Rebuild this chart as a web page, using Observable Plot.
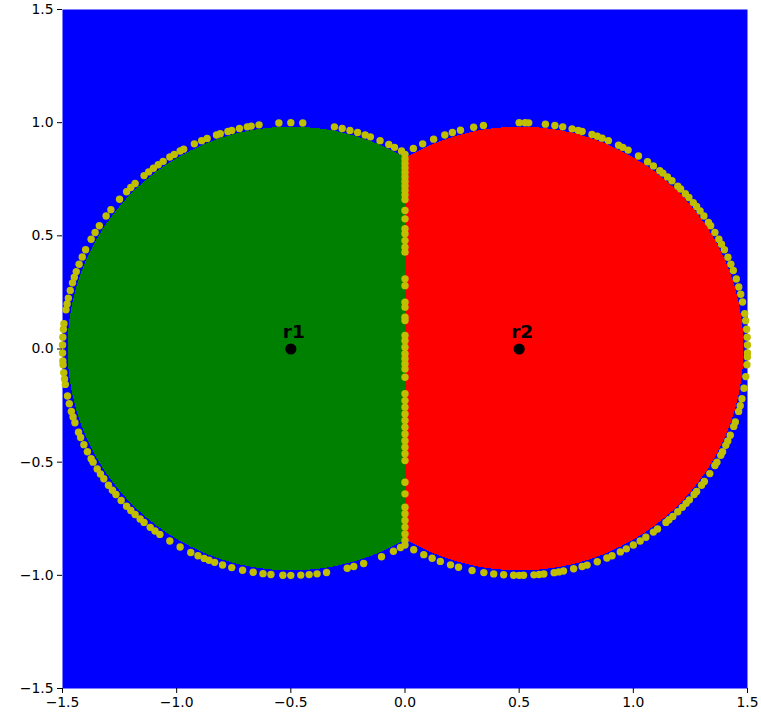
<!DOCTYPE html>
<html>
<head>
<meta charset="utf-8">
<script src="https://cdn.jsdelivr.net/npm/d3@7"></script>
<script src="https://cdn.jsdelivr.net/npm/@observablehq/plot@0.6"></script>
<style>
  html, body { margin: 0; padding: 0; background: #ffffff; }
  #chart { width: 761px; height: 720px; }
</style>
</head>
<body>
<div id="chart"></div>
<script>
// Reference points (Voronoi-like sites)
const siteNames = ["r1", "r2"];
const siteX = [-0.5, 0.5];
const siteY = [0.0, 0.0];
const siteColors = ["green", "red"];
const outsideColor = "blue";
const regionRadius = 0.98;

// Boundary sample points
// angles (degrees) on the unit circle around r1
const arc1Angles = [61, 63, 64.6, 67, 69.6, 71, 73, 75, 77, 79, 87, 90, 93, 98, 100, 101, 103, 105, 106, 108, 109,
  111.5, 113, 115, 118, 119, 120.7, 122, 124, 125.5, 127, 128.5, 130, 133, 134.5, 136, 138.6, 142, 144, 147,
  149, 151, 154, 156, 158, 160, 161.5, 163, 165, 167, 168.5, 170, 173.6, 175, 177, 179, 181, 183, 184, 186,
  187.6, 189, 192, 194, 196, 197.5, 199, 201.6, 203, 205, 207, 209, 210, 212, 213.5, 215, 217, 218.6, 220,
  222, 224, 225.5, 227, 228.7, 230, 232, 233.5, 235, 238, 241, 244, 246, 247.7, 249, 250.5, 252.6, 255,
  257.8, 260.5, 263, 265, 268, 270, 272.5, 274.6, 276.6, 279, 284.3, 286, 288.6, 293.4, 296.7, 298.7];
// angles (degrees) on the unit circle around r2
const arc2Angles = [117.6, 115, 112, 109, 107, 104.9, 101.5, 99, 90, 88.5, 87.6, 83.4, 81, 79, 76.6, 75, 74,
  71.4, 70, 68.7, 67, 64.2, 63, 61.5, 58.5, 55.8, 54, 52, 51, 49.5, 48, 46, 45, 43.3, 42, 40.3, 39, 37.6, 36,
  34, 33, 31, 29, 27.6, 26, 23.9, 22, 20.3, 18, 15.9, 14, 12, 9, 7.2, 5, 3, 1, -1, -2, -4, -7, -10,
  -12.7, -14.5, -16, -18.8, -20, -22.4, -24, -25.2, -27, -28, -30, -31, -33.4, -35.8, -37, -39, -40,
  -41.8, -43, -44.4, -46, -47.7, -49, -50, -52.7, -54, -56.3, -58, -60, -62, -63.7, -66, -67.4, -70,
  -72.7, -74, -76.2, -78.8, -80, -81.2, -83.8, -85, -86.3, -88.9, -90, -91.4, -93.9, -96.4, -98.9,
  -101.9, -105.4, -107.5, -110.2, -112.4, -114.7, -117.5];
// y values on the dividing line x = 0
const midLineY = [0.86, 0.84, 0.82, 0.80, 0.78, 0.76, 0.74, 0.72, 0.70, 0.68, 0.66, 0.612, 0.575,
  0.531, 0.509, 0.479, 0.45, 0.428, 0.31, 0.28, 0.207, 0.185, 0.14, 0.126, 0.06, 0.037, 0.008,
  -0.021, -0.043, -0.066, -0.088, -0.125, -0.198, -0.228, -0.257, -0.287, -0.316, -0.346, -0.375,
  -0.405, -0.434, -0.463, -0.493, -0.589, -0.64, -0.699, -0.728, -0.758, -0.787, -0.817, -0.846, -0.866];

// Axis ticks
const xTicks = [-1.5, -1.0, -0.5, 0.0, 0.5, 1.0, 1.5];
const yTicks = [-1.5, -1.0, -0.5, 0.0, 0.5, 1.0, 1.5];

// Build tables
const rad = Math.PI / 180;
const boundary = [
  ...arc1Angles.map(a => ({x: siteX[0] + Math.cos(a * rad), y: siteY[0] + Math.sin(a * rad)})),
  ...arc2Angles.map(a => ({x: siteX[1] + Math.cos(a * rad), y: siteY[1] + Math.sin(a * rad)})),
  ...midLineY.map(v => ({x: 0, y: v}))
];
const sites = siteNames.map((n, i) => ({name: n, x: siteX[i], y: siteY[i]}));

function classify(x, y) {
  let best = -1, bestD = Infinity;
  for (let i = 0; i < siteX.length; i++) {
    const d = Math.hypot(x - siteX[i], y - siteY[i]);
    if (d < bestD) { bestD = d; best = i; }
  }
  return bestD < regionRadius ? siteNames[best] : "none";
}

const fmt = d => (d < 0 ? "\u2212" : "") + Math.abs(d).toFixed(1);

const chart = Plot.plot({
  width: 761,
  height: 720,
  marginLeft: 62,
  marginRight: 14,
  marginTop: 9,
  marginBottom: 32,
  style: {fontFamily: "DejaVu Sans, sans-serif", fontSize: "13.9px", background: "#ffffff", color: "#000"},
  x: {domain: [-1.5, 1.5], label: null},
  y: {domain: [-1.5, 1.5], label: null},
  color: {domain: ["none", ...siteNames], range: [outsideColor, ...siteColors]},
  marks: [
    Plot.raster({
      x1: -1.5, x2: 1.5, y1: -1.5, y2: 1.5,
      width: 685, height: 679,
      fill: (x, y) => classify(x, y),
      imageRendering: "pixelated"
    }),
    Plot.dot(boundary, {x: "x", y: "y", r: 3.7, fill: "#bfbf00", stroke: "none"}),
    Plot.dot(sites, {x: "x", y: "y", r: 5.6, fill: "black", stroke: "none"}),
    Plot.text(sites, {x: "x", y: d => d.y + 0.05, text: "name", fontWeight: "bold", fontSize: 18.5,
      fill: "black", textAnchor: "middle", lineAnchor: "bottom", dx: 3, dy: 0}),
    Plot.axisX({ticks: xTicks, tickFormat: fmt, tickSize: 5, tickPadding: 4, label: null}),
    Plot.axisY({ticks: yTicks, tickFormat: fmt, tickSize: 5, tickPadding: 4, label: null})
  ]
});
document.getElementById("chart").appendChild(chart);
</script>
</body>
</html>
